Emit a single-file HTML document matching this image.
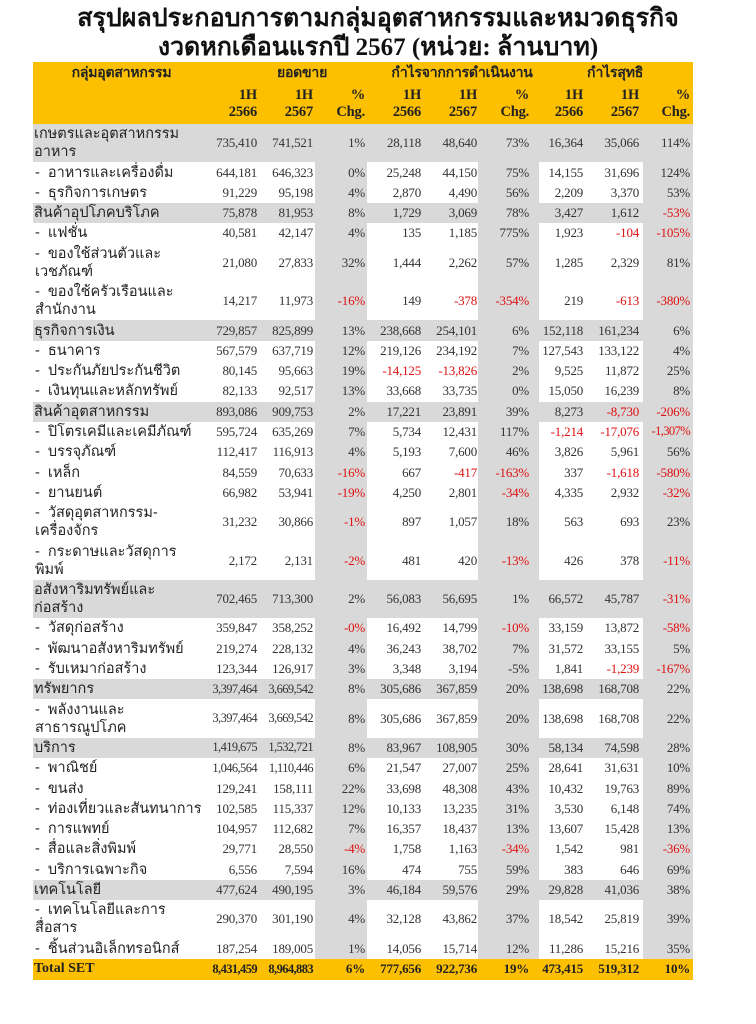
<!DOCTYPE html>
<html><head><meta charset="utf-8">
<style>
body{margin:0;background:#fff;width:756px;height:1024px;position:relative;overflow:hidden;}
.t{position:absolute;left:0;width:756px;text-align:center;font-family:"Liberation Serif","Noto Sans CJK SC",sans-serif;font-weight:bold;font-size:25px;color:#111;line-height:29px;}
table{position:absolute;left:33px;top:62px;width:660px;border-collapse:collapse;table-layout:fixed;}
td{padding:0;font-family:"Liberation Serif",serif;font-size:13px;color:#333;text-align:right;white-space:nowrap;overflow:visible;letter-spacing:-0.2px;}
td.l{text-align:left;font-family:"Liberation Sans","Noto Sans CJK SC",sans-serif;font-size:14.5px;line-height:18px;color:#222;white-space:normal;padding-left:1px;letter-spacing:0;}
tr.s td.l{padding-left:2px;}
tr{height:20.3px;}
tr.d{height:38.4px;}
tr.c td{background:#d9d9d9;}
tr.s td:nth-child(4),tr.s td:nth-child(7),tr.s td:nth-child(10){background:#d9d9d9;}
td:nth-child(2){padding-right:3px}
td:nth-child(3){padding-right:2px}
td:nth-child(4){padding-right:2px}
td:nth-child(5){padding-right:3px}
td:nth-child(6){padding-right:1px}
td:nth-child(7){padding-right:10px}
td:nth-child(8){padding-right:2px}
td:nth-child(9){padding-right:4px}
td:nth-child(10){padding-right:3px}
.b{letter-spacing:-0.6px;font-size:12.5px}
.r{color:#e01010}
tr.h td{background:#fcc000;font-weight:bold;color:#222;font-size:14.5px;}
tr.h1{height:20px}
tr.h1 td{text-align:center;font-family:"Liberation Sans","Noto Sans CJK SC",sans-serif;font-size:14px;}
tr.h2{height:40px}
tr.h2 td{line-height:17px;}
tr.tot td{background:#fcc000;font-weight:bold;color:#222;height:21px;}
tr.tot td.l{font-family:"Liberation Serif",serif;font-size:14px;}
</style></head><body>
<div class="t" style="top:4px">สรุปผลประกอบการตามกลุ่มอุตสาหกรรมและหมวดธุรกิจ</div>
<div class="t" style="top:33px">งวดหกเดือนแรกปี 2567 (หน่วย: ล้านบาท)</div>
<table>
<colgroup><col style="width:177px"><col style="width:50px"><col style="width:55px"><col style="width:52px"><col style="width:57px"><col style="width:54px"><col style="width:61px"><col style="width:46px"><col style="width:58px"><col style="width:50px"></colgroup>
<tr class="h h1"><td>กลุ่มอุตสาหกรรม</td><td colspan="3" style="padding-left:30px">ยอดขาย</td><td colspan="3" style="padding-left:20px">กำไรจากการดำเนินงาน</td><td colspan="3">กำไรสุทธิ</td></tr>
<tr class="h h2"><td></td><td>1H<br>2566</td><td>1H<br>2567</td><td>%<br>Chg.</td><td>1H<br>2566</td><td>1H<br>2567</td><td>%<br>Chg.</td><td>1H<br>2566</td><td>1H<br>2567</td><td>%<br>Chg.</td></tr>
<tr class="c d"><td class="l">เกษตรและอุตสาหกรรม<br>อาหาร</td><td>735,410</td><td>741,521</td><td>1%</td><td>28,118</td><td>48,640</td><td>73%</td><td>16,364</td><td>35,066</td><td>114%</td></tr>
<tr class="s"><td class="l">-&nbsp; อาหารและเครื่องดื่ม</td><td>644,181</td><td>646,323</td><td>0%</td><td>25,248</td><td>44,150</td><td>75%</td><td>14,155</td><td>31,696</td><td>124%</td></tr>
<tr class="s"><td class="l">-&nbsp; ธุรกิจการเกษตร</td><td>91,229</td><td>95,198</td><td>4%</td><td>2,870</td><td>4,490</td><td>56%</td><td>2,209</td><td>3,370</td><td>53%</td></tr>
<tr class="c"><td class="l">สินค้าอุปโภคบริโภค</td><td>75,878</td><td>81,953</td><td>8%</td><td>1,729</td><td>3,069</td><td>78%</td><td>3,427</td><td>1,612</td><td class="r">-53%</td></tr>
<tr class="s"><td class="l">-&nbsp; แฟชั่น</td><td>40,581</td><td>42,147</td><td>4%</td><td>135</td><td>1,185</td><td>775%</td><td>1,923</td><td class="r">-104</td><td class="r">-105%</td></tr>
<tr class="s d"><td class="l">-&nbsp; ของใช้ส่วนตัวและ<br>เวชภัณฑ์</td><td>21,080</td><td>27,833</td><td>32%</td><td>1,444</td><td>2,262</td><td>57%</td><td>1,285</td><td>2,329</td><td>81%</td></tr>
<tr class="s d"><td class="l">-&nbsp; ของใช้ครัวเรือนและ<br>สำนักงาน</td><td>14,217</td><td>11,973</td><td class="r">-16%</td><td>149</td><td class="r">-378</td><td class="r">-354%</td><td>219</td><td class="r">-613</td><td class="r">-380%</td></tr>
<tr class="c"><td class="l">ธุรกิจการเงิน</td><td>729,857</td><td>825,899</td><td>13%</td><td>238,668</td><td>254,101</td><td>6%</td><td>152,118</td><td>161,234</td><td>6%</td></tr>
<tr class="s"><td class="l">-&nbsp; ธนาคาร</td><td>567,579</td><td>637,719</td><td>12%</td><td>219,126</td><td>234,192</td><td>7%</td><td>127,543</td><td>133,122</td><td>4%</td></tr>
<tr class="s"><td class="l">-&nbsp; ประกันภัยประกันชีวิต</td><td>80,145</td><td>95,663</td><td>19%</td><td class="r">-14,125</td><td class="r">-13,826</td><td>2%</td><td>9,525</td><td>11,872</td><td>25%</td></tr>
<tr class="s"><td class="l">-&nbsp; เงินทุนและหลักทรัพย์</td><td>82,133</td><td>92,517</td><td>13%</td><td>33,668</td><td>33,735</td><td>0%</td><td>15,050</td><td>16,239</td><td>8%</td></tr>
<tr class="c"><td class="l">สินค้าอุตสาหกรรม</td><td>893,086</td><td>909,753</td><td>2%</td><td>17,221</td><td>23,891</td><td>39%</td><td>8,273</td><td class="r">-8,730</td><td class="r">-206%</td></tr>
<tr class="s"><td class="l">-&nbsp; ปิโตรเคมีและเคมีภัณฑ์</td><td>595,724</td><td>635,269</td><td>7%</td><td>5,734</td><td>12,431</td><td>117%</td><td class="r">-1,214</td><td class="r">-17,076</td><td class="r b">-1,307%</td></tr>
<tr class="s"><td class="l">-&nbsp; บรรจุภัณฑ์</td><td>112,417</td><td>116,913</td><td>4%</td><td>5,193</td><td>7,600</td><td>46%</td><td>3,826</td><td>5,961</td><td>56%</td></tr>
<tr class="s"><td class="l">-&nbsp; เหล็ก</td><td>84,559</td><td>70,633</td><td class="r">-16%</td><td>667</td><td class="r">-417</td><td class="r">-163%</td><td>337</td><td class="r">-1,618</td><td class="r">-580%</td></tr>
<tr class="s"><td class="l">-&nbsp; ยานยนต์</td><td>66,982</td><td>53,941</td><td class="r">-19%</td><td>4,250</td><td>2,801</td><td class="r">-34%</td><td>4,335</td><td>2,932</td><td class="r">-32%</td></tr>
<tr class="s d"><td class="l">-&nbsp; วัสดุอุตสาหกรรม-<br>เครื่องจักร</td><td>31,232</td><td>30,866</td><td class="r">-1%</td><td>897</td><td>1,057</td><td>18%</td><td>563</td><td>693</td><td>23%</td></tr>
<tr class="s d"><td class="l">-&nbsp; กระดาษและวัสดุการ<br>พิมพ์</td><td>2,172</td><td>2,131</td><td class="r">-2%</td><td>481</td><td>420</td><td class="r">-13%</td><td>426</td><td>378</td><td class="r">-11%</td></tr>
<tr class="c d"><td class="l">อสังหาริมทรัพย์และ<br>ก่อสร้าง</td><td>702,465</td><td>713,300</td><td>2%</td><td>56,083</td><td>56,695</td><td>1%</td><td>66,572</td><td>45,787</td><td class="r">-31%</td></tr>
<tr class="s"><td class="l">-&nbsp; วัสดุก่อสร้าง</td><td>359,847</td><td>358,252</td><td class="r">-0%</td><td>16,492</td><td>14,799</td><td class="r">-10%</td><td>33,159</td><td>13,872</td><td class="r">-58%</td></tr>
<tr class="s"><td class="l">-&nbsp; พัฒนาอสังหาริมทรัพย์</td><td>219,274</td><td>228,132</td><td>4%</td><td>36,243</td><td>38,702</td><td>7%</td><td>31,572</td><td>33,155</td><td>5%</td></tr>
<tr class="s"><td class="l">-&nbsp; รับเหมาก่อสร้าง</td><td>123,344</td><td>126,917</td><td>3%</td><td>3,348</td><td>3,194</td><td>-5%</td><td>1,841</td><td class="r">-1,239</td><td class="r">-167%</td></tr>
<tr class="c"><td class="l">ทรัพยากร</td><td class="b">3,397,464</td><td class="b">3,669,542</td><td>8%</td><td>305,686</td><td>367,859</td><td>20%</td><td>138,698</td><td>168,708</td><td>22%</td></tr>
<tr class="s d"><td class="l">-&nbsp; พลังงานและ<br>สาธารณูปโภค</td><td class="b">3,397,464</td><td class="b">3,669,542</td><td>8%</td><td>305,686</td><td>367,859</td><td>20%</td><td>138,698</td><td>168,708</td><td>22%</td></tr>
<tr class="c"><td class="l">บริการ</td><td class="b">1,419,675</td><td class="b">1,532,721</td><td>8%</td><td>83,967</td><td>108,905</td><td>30%</td><td>58,134</td><td>74,598</td><td>28%</td></tr>
<tr class="s"><td class="l">-&nbsp; พาณิชย์</td><td class="b">1,046,564</td><td class="b">1,110,446</td><td>6%</td><td>21,547</td><td>27,007</td><td>25%</td><td>28,641</td><td>31,631</td><td>10%</td></tr>
<tr class="s"><td class="l">-&nbsp; ขนส่ง</td><td>129,241</td><td>158,111</td><td>22%</td><td>33,698</td><td>48,308</td><td>43%</td><td>10,432</td><td>19,763</td><td>89%</td></tr>
<tr class="s"><td class="l">-&nbsp; ท่องเที่ยวและสันทนาการ</td><td>102,585</td><td>115,337</td><td>12%</td><td>10,133</td><td>13,235</td><td>31%</td><td>3,530</td><td>6,148</td><td>74%</td></tr>
<tr class="s"><td class="l">-&nbsp; การแพทย์</td><td>104,957</td><td>112,682</td><td>7%</td><td>16,357</td><td>18,437</td><td>13%</td><td>13,607</td><td>15,428</td><td>13%</td></tr>
<tr class="s"><td class="l">-&nbsp; สื่อและสิ่งพิมพ์</td><td>29,771</td><td>28,550</td><td class="r">-4%</td><td>1,758</td><td>1,163</td><td class="r">-34%</td><td>1,542</td><td>981</td><td class="r">-36%</td></tr>
<tr class="s"><td class="l">-&nbsp; บริการเฉพาะกิจ</td><td>6,556</td><td>7,594</td><td>16%</td><td>474</td><td>755</td><td>59%</td><td>383</td><td>646</td><td>69%</td></tr>
<tr class="c"><td class="l">เทคโนโลยี</td><td>477,624</td><td>490,195</td><td>3%</td><td>46,184</td><td>59,576</td><td>29%</td><td>29,828</td><td>41,036</td><td>38%</td></tr>
<tr class="s d"><td class="l">-&nbsp; เทคโนโลยีและการ<br>สื่อสาร</td><td>290,370</td><td>301,190</td><td>4%</td><td>32,128</td><td>43,862</td><td>37%</td><td>18,542</td><td>25,819</td><td>39%</td></tr>
<tr class="s"><td class="l">-&nbsp; ชิ้นส่วนอิเล็กทรอนิกส์</td><td>187,254</td><td>189,005</td><td>1%</td><td>14,056</td><td>15,714</td><td>12%</td><td>11,286</td><td>15,216</td><td>35%</td></tr>
<tr class="tot"><td class="l">Total SET</td><td class="b">8,431,459</td><td class="b">8,964,883</td><td>6%</td><td>777,656</td><td>922,736</td><td>19%</td><td>473,415</td><td>519,312</td><td>10%</td></tr>
</table>
</body></html>
